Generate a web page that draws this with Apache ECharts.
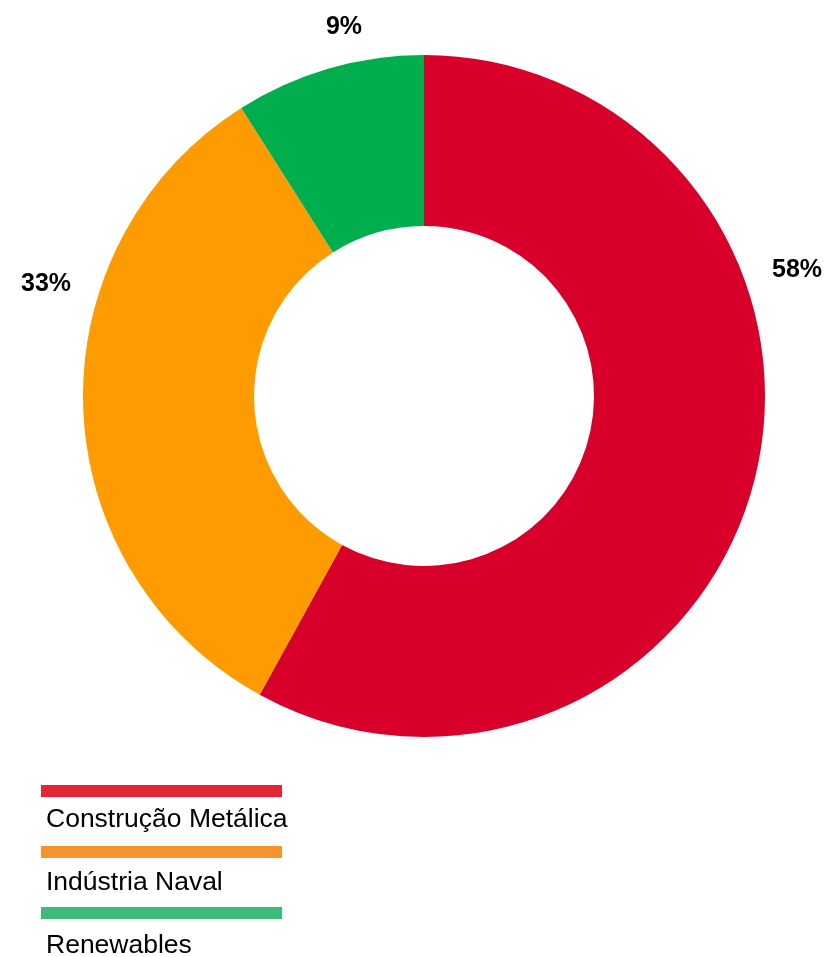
<!DOCTYPE html>
<html>
<head>
<meta charset="utf-8">
<script src="https://cdn.jsdelivr.net/npm/echarts@6/dist/echarts.min.js"></script>
<style>
  html, body { margin: 0; padding: 0; background: #ffffff; }
  #chart { width: 827px; height: 957px; }
</style>
</head>
<body>
<div id="chart"></div>
<script>
// ---- data ----
const categories = ['Construção Metálica', 'Indústria Naval', 'Renewables'];
const values = [58, 33, 9];
const valueLabels = ['58%', '33%', '9%'];

// ---- styles ----
const sliceColors = ['#d8002b', '#fd9b00', '#00ae4e'];
const legendColors = ['#e32535', '#f59331', '#3dbb78'];
// label offsets from pie centre (style only)
const labelOffsets = [[373, -126], [-378, -112], [-80, -369]];

const chart = echarts.init(document.getElementById('chart'), null, { renderer: 'canvas' });

const seriesData = categories.map((name, i) => ({
  name: name,
  value: values[i],
  itemStyle: { color: sliceColors[i] },
  label: { offset: labelOffsets[i] }
}));

const graphics = [];
categories.forEach((name, i) => {
  graphics.push({
    type: 'rect',
    left: 41,
    top: 785 + i * 61,
    shape: { width: 241, height: 12 },
    style: { fill: legendColors[i] },
    silent: true
  });
  graphics.push({
    type: 'text',
    left: 46,
    top: 806 + i * 63,
    style: {
      text: name,
      fill: '#000000',
      font: '26.5px "Liberation Sans", Arial, sans-serif'
    },
    silent: true
  });
});

chart.setOption({
  animation: false,
  series: [{
    type: 'pie',
    center: [424, 396],
    radius: [170, 341],
    startAngle: 90,
    clockwise: true,
    avoidLabelOverlap: false,
    label: {
      show: true,
      position: 'center',
      formatter: (p) => valueLabels[p.dataIndex],
      fontFamily: '"Liberation Sans", Arial, sans-serif',
      fontWeight: 'bold',
      fontSize: 25,
      color: '#000000'
    },
    labelLine: { show: false },
    emphasis: { disabled: true },
    itemStyle: { borderWidth: 0 },
    data: seriesData
  }],
  graphic: graphics
});
</script>
</body>
</html>
